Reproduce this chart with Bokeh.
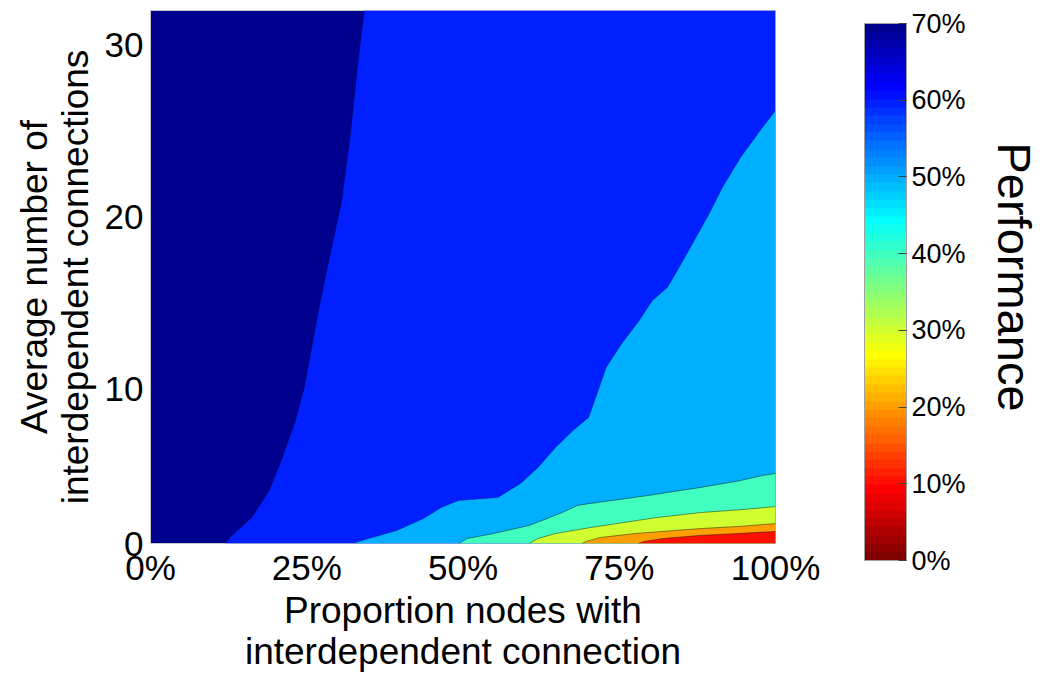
import numpy as np
from bokeh.plotting import figure
from bokeh.models import (Range1d, LinearColorMapper, ColorBar, FixedTicker,
                          NumeralTickFormatter, LinearAxis)
from bokeh.embed import file_html
from bokeh.resources import INLINE

# ---------------- data ----------------
# Contour boundaries: x = proportion of nodes, y = average number of connections
levels = [0.6, 0.5, 0.4, 0.3, 0.2, 0.1]

b60_x = [0.342, 0.331, 0.320, 0.306, 0.282, 0.271, 0.261, 0.246, 0.232, 0.211, 0.190, 0.162, 0.127, 0.120]
b60_y = [32.0, 28.68, 24.85, 20.95, 16.88, 14.96, 12.98, 10.07, 8.15, 6.00, 4.08, 2.51, 1.35, 1.0]

b50_x = [1.0, 0.979, 0.944, 0.915, 0.894, 0.870, 0.843, 0.827, 0.803, 0.782, 0.754, 0.729, 0.718,
         0.701, 0.676, 0.648, 0.620, 0.592, 0.556, 0.493, 0.465, 0.437, 0.394, 0.338, 0.324]
b50_y = [26.18, 25.19, 23.45, 21.70, 20.19, 18.62, 16.88, 15.89, 15.13, 13.97, 12.63, 11.24, 10.07,
         8.33, 7.57, 6.58, 5.42, 4.49, 3.68, 3.50, 3.09, 2.45, 1.76, 1.17, 1.0]

b40_x = [1.0, 0.979, 0.944, 0.880, 0.796, 0.704, 0.683, 0.655, 0.606, 0.549, 0.507, 0.493]
b40_y = [5.07, 4.95, 4.66, 4.26, 3.79, 3.33, 3.21, 2.74, 2.05, 1.58, 1.29, 1.0]

b30_x = [1.0, 0.95, 0.88, 0.81, 0.704, 0.648, 0.62, 0.606]
b30_y = [3.15, 2.98, 2.80, 2.51, 1.93, 1.58, 1.29, 1.0]

b20_x = [1.0, 0.94, 0.88, 0.775, 0.72, 0.697, 0.69]
b20_y = [2.16, 1.99, 1.87, 1.58, 1.35, 1.12, 1.0]

b10_x = [1.0, 0.94, 0.88, 0.82, 0.79, 0.78]
b10_y = [1.70, 1.58, 1.47, 1.29, 1.12, 1.0]

boundaries_x = [b60_x, b50_x, b40_x, b30_x, b20_x, b10_x]
boundaries_y = [b60_y, b50_y, b40_y, b30_y, b20_y, b10_y]

x_extent = [0.0, 1.0]
y_extent = [1.0, 32.0]
x_ticks = [0.0, 0.25, 0.5, 0.75, 1.0]
y_ticks = [1, 10, 20, 30]
y_tick_overrides = {1: "0"}
perf_low, perf_high = 0.0, 0.7
cbar_ticks = [0.0, 0.1, 0.2, 0.3, 0.4, 0.5, 0.6, 0.7]

# ---------------- colormap (MATLAB jet(64), flipped) ----------------
def jet64():
    n = 16
    u = [i / n for i in range(1, n + 1)] + [1.0] * (n - 1) + [i / n for i in range(n, 0, -1)]
    m = 64
    R = np.zeros(m); G = np.zeros(m); B = np.zeros(m)
    for k, val in enumerate(u):
        g_row = 8 + k
        r_row = g_row + n
        b_row = g_row - n
        if 0 <= g_row < m: G[g_row] = val
        if 0 <= r_row < m: R[r_row] = val
        if 0 <= b_row < m: B[b_row] = val
    return ["#%02x%02x%02x" % (int(round(r * 255)), int(round(g * 255)), int(round(b * 255)))
            for r, g, b in zip(R, G, B)]

cmap = jet64()[::-1]   # index 0 -> low performance (dark red)

def color_of(v):
    idx = int((v - perf_low) / (perf_high - perf_low) * 64)
    return cmap[min(max(idx, 0), 63)]

FONT = "Liberation Sans"

p = figure(frame_width=625, frame_height=533,
           x_range=Range1d(*x_extent), y_range=Range1d(*y_extent),
           output_backend="svg", toolbar_location=None,
           min_border_left=150, min_border_top=10, min_border_right=0, min_border_bottom=0)

p.background_fill_color = color_of(perf_high)   # region above the highest contour
p.border_fill_color = "white"
p.outline_line_color = "#c8c8c8"
p.grid.visible = False

for i, (bx, by) in enumerate(zip(boundaries_x, boundaries_y)):
    px = list(bx) + [x_extent[1], x_extent[1]]
    py = list(by) + [y_extent[0], by[0]]
    p.patch(px, py, fill_color=color_of(levels[i]), line_color=None)

for i, (bx, by) in enumerate(zip(boundaries_x, boundaries_y)):
    p.line(bx, by, line_color="black", line_alpha=0.35 if levels[i] >= 0.5 else 0.55,
           line_width=0.8)

# axes
p.xaxis.ticker = FixedTicker(ticks=x_ticks)
p.xaxis.formatter = NumeralTickFormatter(format="0%")
p.yaxis.ticker = FixedTicker(ticks=y_ticks)
p.yaxis.major_label_overrides = y_tick_overrides
for ax in (p.xaxis[0], p.yaxis[0]):
    ax.axis_line_color = None
    ax.major_tick_line_color = None
    ax.minor_tick_line_color = None
    ax.major_tick_out = 0
    ax.major_tick_in = 0
    ax.major_label_text_font = FONT
    ax.major_label_text_color = "black"
    ax.axis_label_text_font = FONT
    ax.axis_label_text_font_style = "normal"
    ax.axis_label_text_color = "black"
    ax.axis_label_text_font_size = "37px"
    ax.axis_label_text_line_height = 1.0

p.xaxis.major_label_text_font_size = "35px"
p.yaxis.major_label_text_font_size = "35px"
p.xaxis.major_label_standoff = 4
p.yaxis.major_label_standoff = 7
p.xaxis.axis_label = "Proportion nodes with\ninterdependent connection"
p.yaxis.axis_label = "Average number of\ninterdependent connections"
p.xaxis.axis_label_standoff = 0
p.yaxis.axis_label_standoff = 6

# spacer between plot frame and colour bar (invisible axis)
spacer = LinearAxis(ticker=FixedTicker(ticks=[]), axis_line_color=None,
                    major_tick_line_color=None, minor_tick_line_color=None,
                    major_tick_out=0, major_tick_in=0,
                    axis_label=" ", axis_label_text_font_size="10px",
                    axis_label_text_alpha=0, axis_label_standoff=62)
p.add_layout(spacer, "right")

mapper = LinearColorMapper(palette=cmap, low=perf_low, high=perf_high)
cb = ColorBar(color_mapper=mapper, ticker=FixedTicker(ticks=cbar_ticks),
              formatter=NumeralTickFormatter(format="0%"),
              width=42, height=537, padding=13, margin=0,
              label_standoff=5,
              major_label_text_font=FONT, major_label_text_font_size="27px",
              major_label_text_color="black",
              major_tick_line_color="#404040", major_tick_in=8, major_tick_out=0,
              minor_tick_line_color=None,
              bar_line_color="#a0a0a0", border_line_color=None,
              background_fill_color="white")
p.add_layout(cb, "right")

perf_axis = LinearAxis(axis_label="Performance", ticker=FixedTicker(ticks=[]),
                       axis_line_color=None, major_tick_line_color=None,
                       minor_tick_line_color=None, major_tick_out=0, major_tick_in=0,
                       axis_label_text_font=FONT, axis_label_text_font_size="47px",
                       axis_label_text_font_style="normal", axis_label_text_color="black",
                       axis_label_standoff=6)
p.add_layout(perf_axis, "right")

open("out.html", "w").write(file_html(p, INLINE))
